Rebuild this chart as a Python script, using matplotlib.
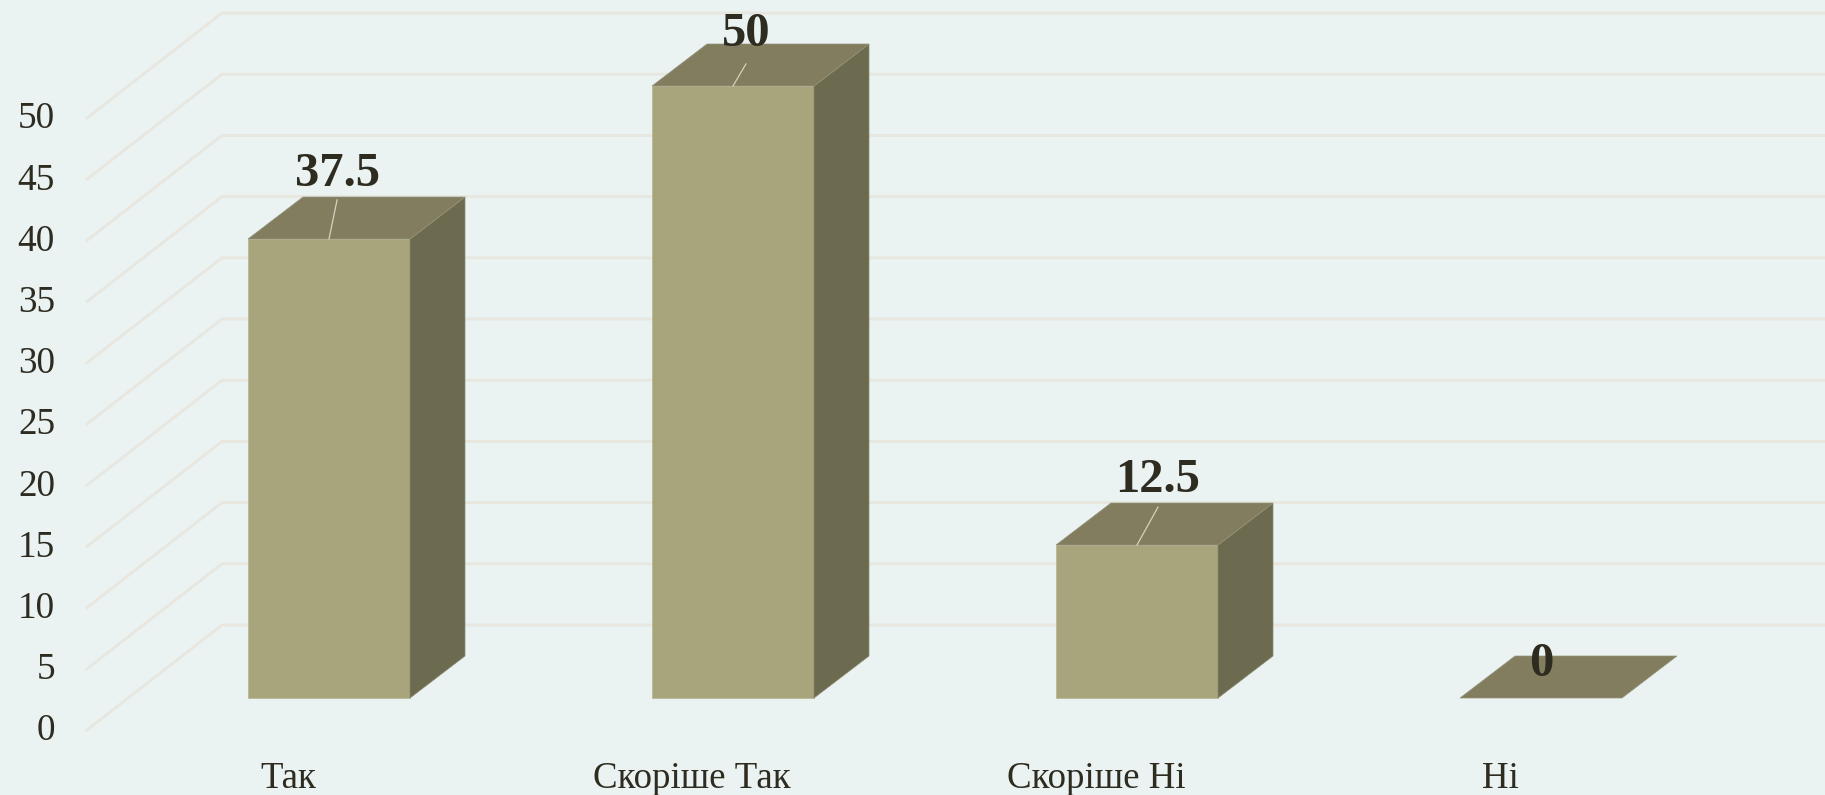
import matplotlib
matplotlib.use('Agg')
import matplotlib.pyplot as plt
from matplotlib.patches import Polygon

categories = ['Так', 'Скоріше Так', 'Скоріше Ні', 'Ні']
values = [37.5, 50, 12.5, 0]
value_labels = ['37.5', '50', '12.5', '0']
y_ticks = [0, 5, 10, 15, 20, 25, 30, 35, 40, 45, 50]

# label placement relative to the bar's front-top centre (x in categories, y in values)
label_dx = [0.02, 0.032, 0.052, 0.0]
label_dy = [5.32, 4.28, 5.32, 2.8]
leader_dy = [3.2, 1.8, 3.1, 0]

BG = '#EAF3F2'
FRONT = '#A8A57C'
TOP = '#827D5E'
SIDE = '#6C6A4F'
GRID = '#E7E6DF'
TEXT = '#2E2B20'
LEADER = '#D5D2BE'

W, H = 1825, 795
X_STEP = 404.0    # px per category
Y_STEP = 12.24    # px per value unit
X0, Y0 = 329.0, 698.0    # px of first bar centre, bar base

plt.rcParams['font.family'] = ['Liberation Serif', 'DejaVu Serif']

fig = plt.figure(figsize=(W / 100, H / 100), dpi=100, facecolor=BG)
ax = fig.add_axes([0, 0, 1, 1])
ax.set_xlim(-X0 / X_STEP, (W - X0) / X_STEP)
ax.set_ylim((Y0 - H) / Y_STEP, Y0 / Y_STEP)
ax.axis('off')

bar_w = 162 / X_STEP
depth_x = 55 / X_STEP
depth_y = 42 / Y_STEP

# oblique floor, measured from the bar base
floor_front_x = (87 - X0) / X_STEP
floor_back_x = (222 - X0) / X_STEP
floor_front_y = (Y0 - 730) / Y_STEP
floor_back_y = (Y0 - 625) / Y_STEP
right_x = ax.get_xlim()[1]

for v in y_ticks:
    ax.plot([floor_front_x, floor_back_x, right_x],
            [v + floor_front_y, v + floor_back_y, v + floor_back_y],
            color=GRID, lw=2.0, solid_joinstyle='miter', zorder=1)
    ax.text(floor_front_x - 32 / X_STEP, v + floor_front_y - 0.1, str(v),
            ha='right', va='center', fontsize=26.8, color=TEXT)

for i, (name, v) in enumerate(zip(categories, values)):
    left = i - bar_w / 2
    right = i + bar_w / 2
    if v > 0:
        ax.add_patch(Polygon([(left, 0), (right, 0), (right, v), (left, v)],
                             facecolor=FRONT, edgecolor='#B9B794', lw=0.6, zorder=3))
        ax.add_patch(Polygon([(right, 0), (right + depth_x, depth_y),
                              (right + depth_x, v + depth_y), (right, v)],
                             facecolor=SIDE, edgecolor='#8A8970', lw=0.5, zorder=3))
    ax.add_patch(Polygon([(left, v), (right, v), (right + depth_x, v + depth_y),
                          (left + depth_x, v + depth_y)],
                         facecolor=TOP, edgecolor='#96937A', lw=0.5, zorder=3))
    if v > 0:
        ax.plot([i, i + label_dx[i]], [v, v + leader_dy[i]], color=LEADER, lw=0.9, zorder=4)
    ax.text(i + label_dx[i], v + label_dy[i], value_labels[i], ha='center', va='center',
            fontsize=35, fontweight='bold', color=TEXT, zorder=5)
    ax.text(i - 41 / X_STEP, (Y0 - 779) / Y_STEP, name, ha='center', va='center',
            fontsize=26.6, color=TEXT)

fig.savefig('out.png', dpi=100, facecolor=BG)
